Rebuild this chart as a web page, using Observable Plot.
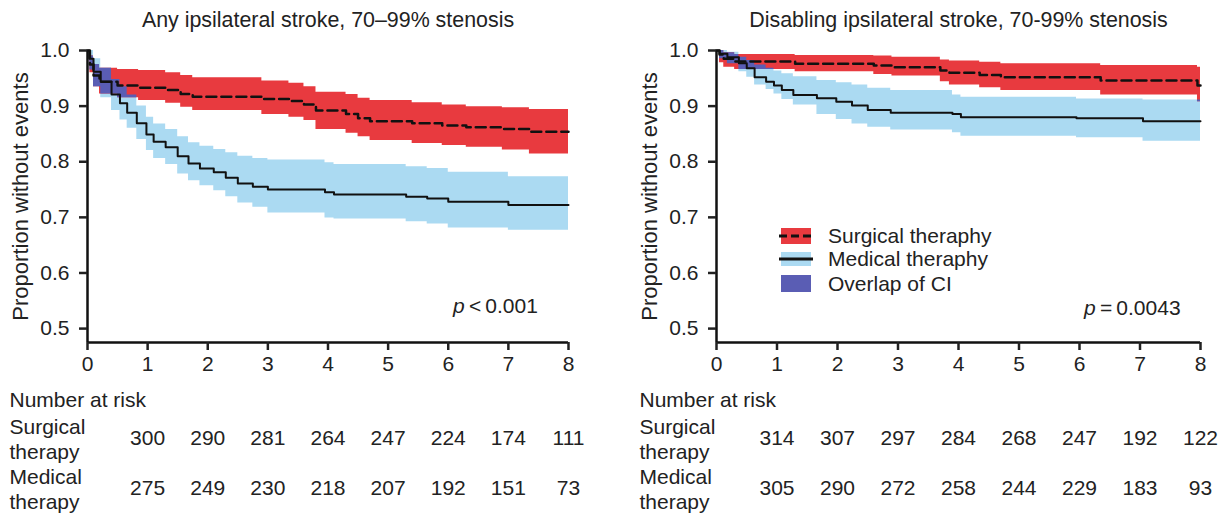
<!DOCTYPE html>
<html>
<head>
<meta charset="utf-8">
<script src="https://cdn.jsdelivr.net/npm/d3@7"></script>
<script src="https://cdn.jsdelivr.net/npm/@observablehq/plot@0.6"></script>
<style>
  body { margin: 0; background: #fff; }
  #wrap { position: relative; width: 1221px; height: 513px; display: flex; font-family: "Liberation Sans", Arial, sans-serif; color: #222; }
  .ov { position: absolute; font-size: 21px; line-height: 1; white-space: nowrap; }
</style>
</head>
<body>
<div id="wrap"></div>
<script>
// ---------- data ----------
const xTicks = [0, 1, 2, 3, 4, 5, 6, 7, 8];
const yTicks = [0.5, 0.6, 0.7, 0.8, 0.9, 1.0];
const riskTicks = [1, 2, 3, 4, 5, 6, 7, 8];

// Panel 1: any ipsilateral stroke
const anySurgT  = [0, 0.04, 0.1, 0.2, 0.5, 0.85, 1.3, 1.55, 1.75, 2.9, 3.35, 3.6, 3.8, 4.3, 4.5, 4.7, 5.4, 5.9, 6.3, 6.9, 7.35, 8];
const anySurgS  = [1.0, 0.975, 0.955, 0.944, 0.937, 0.933, 0.929, 0.922, 0.917, 0.913, 0.909, 0.903, 0.892, 0.886, 0.878, 0.873, 0.869, 0.865, 0.862, 0.859, 0.854, 0.854];
const anySurgLo = [1.0, 0.96, 0.935, 0.922, 0.915, 0.91, 0.905, 0.898, 0.892, 0.885, 0.88, 0.874, 0.858, 0.851, 0.845, 0.838, 0.833, 0.829, 0.826, 0.821, 0.814, 0.814];
const anySurgHi = [1.0, 0.99, 0.975, 0.968, 0.966, 0.964, 0.96, 0.955, 0.951, 0.945, 0.941, 0.935, 0.925, 0.921, 0.914, 0.91, 0.906, 0.902, 0.899, 0.897, 0.894, 0.894];

const anyMedT  = [0, 0.03, 0.1, 0.22, 0.4, 0.54, 0.66, 0.82, 0.98, 1.1, 1.3, 1.5, 1.68, 1.87, 2.1, 2.3, 2.5, 2.75, 3.0, 3.95, 4.1, 5.3, 5.65, 6.0, 7.0, 8];
const anyMedS  = [1.0, 0.985, 0.962, 0.944, 0.921, 0.905, 0.888, 0.869, 0.849, 0.836, 0.826, 0.81, 0.797, 0.788, 0.781, 0.771, 0.761, 0.755, 0.75, 0.745, 0.741, 0.737, 0.734, 0.728, 0.722, 0.722];
const anyMedLo = [1.0, 0.965, 0.935, 0.915, 0.892, 0.875, 0.86, 0.84, 0.82, 0.806, 0.795, 0.778, 0.766, 0.757, 0.748, 0.737, 0.726, 0.718, 0.708, 0.699, 0.697, 0.692, 0.688, 0.681, 0.677, 0.677];
const anyMedHi = [1.0, 1.0, 0.985, 0.968, 0.948, 0.935, 0.92, 0.9, 0.88, 0.868, 0.858, 0.845, 0.834, 0.828, 0.822, 0.816, 0.81, 0.806, 0.803, 0.798, 0.795, 0.791, 0.788, 0.781, 0.773, 0.773];

const anySurgRisk = [300, 290, 281, 264, 247, 224, 174, 111];
const anyMedRisk  = [275, 249, 230, 218, 207, 192, 151, 73];

// Panel 2: disabling ipsilateral stroke
const disSurgT  = [0, 0.05, 0.12, 0.3, 1.3, 2.6, 2.9, 3.7, 3.85, 4.35, 4.7, 6.35, 7.95, 8];
const disSurgS  = [1.0, 0.993, 0.985, 0.98, 0.976, 0.973, 0.97, 0.964, 0.96, 0.956, 0.952, 0.946, 0.937, 0.937];
const disSurgLo = [1.0, 0.978, 0.97, 0.966, 0.962, 0.957, 0.954, 0.944, 0.938, 0.933, 0.928, 0.92, 0.908, 0.908];
const disSurgHi = [1.0, 1.0, 0.996, 0.993, 0.991, 0.99, 0.988, 0.983, 0.981, 0.979, 0.976, 0.973, 0.97, 0.97];

const disMedT  = [0, 0.05, 0.18, 0.37, 0.5, 0.63, 0.82, 0.95, 1.08, 1.27, 1.66, 1.98, 2.24, 2.5, 2.88, 3.9, 4.04, 5.95, 7.05, 8];
const disMedS  = [1.0, 0.994, 0.988, 0.977, 0.968, 0.952, 0.944, 0.937, 0.929, 0.92, 0.914, 0.908, 0.901, 0.893, 0.888, 0.886, 0.88, 0.878, 0.873, 0.873];
const disMedLo = [1.0, 0.985, 0.976, 0.962, 0.952, 0.938, 0.93, 0.922, 0.912, 0.902, 0.885, 0.876, 0.868, 0.862, 0.857, 0.852, 0.846, 0.843, 0.837, 0.837];
const disMedHi = [1.0, 1.0, 0.997, 0.988, 0.982, 0.974, 0.968, 0.963, 0.958, 0.953, 0.946, 0.942, 0.938, 0.932, 0.928, 0.92, 0.916, 0.913, 0.911, 0.911];

const disSurgRisk = [314, 307, 297, 284, 268, 247, 192, 122];
const disMedRisk  = [305, 290, 272, 258, 244, 229, 183, 93];

// ---------- helpers ----------
const RED = "#e83a3f", BLUE = "#abdaf2", PURPLE = "#5a5db4";
const FONT = "'Liberation Sans', Arial, Helvetica, sans-serif";
const INK = "#222";
const Y_MIN = 0.475;

function rows(t, s, lo, hi) { return t.map((d, i) => ({t: d, s: s[i], lo: lo[i], hi: hi[i]})); }
function stepAt(r, time) { let v = r[0]; for (const d of r) { if (d.t <= time) v = d; else break; } return v; }
function overlap(a, b) {
  const times = Array.from(new Set([...a.map(d => d.t), ...b.map(d => d.t)])).sort((x, y) => x - y);
  return times.map(t => {
    const A = stepAt(a, t), B = stepAt(b, t);
    const lo = Math.max(A.lo, B.lo), hi = Math.min(A.hi, B.hi);
    return {t, lo, hi: hi > lo ? hi : lo};
  });
}

function panel({title, surg, med, surgRisk, medRisk, width, marginLeft, marginRight, labelX, rowX}) {
  const ov = overlap(surg, med);
  const fs = 21;
  const txt = {fontSize: fs, fill: INK, lineAnchor: "middle"};
  return Plot.plot({
    width, height: 513,
    marginLeft, marginRight, marginTop: 50, marginBottom: 171,
    style: {fontFamily: FONT, fontSize: fs + "px", color: INK, background: "white", overflow: "visible"},
    x: {domain: [0, 8]},
    y: {domain: [Y_MIN, 1.0]},
    marks: [
      Plot.areaY(med, {x: "t", y1: "lo", y2: "hi", curve: "step-after", fill: BLUE}),
      Plot.areaY(surg, {x: "t", y1: "lo", y2: "hi", curve: "step-after", fill: RED}),
      Plot.areaY(ov, {x: "t", y1: "lo", y2: "hi", curve: "step-after", fill: PURPLE}),
      Plot.lineY(med, {x: "t", y: "s", curve: "step-after", stroke: "#111", strokeWidth: 2}),
      Plot.lineY(surg, {x: "t", y: "s", curve: "step-after", stroke: "#111", strokeWidth: 2.5, strokeDasharray: "10,5"}),
      Plot.ruleX([0], {y1: Y_MIN, y2: 1.0, stroke: "#111", strokeWidth: 2.5}),
      Plot.ruleY([Y_MIN], {x1: 0, x2: 8, stroke: "#111", strokeWidth: 2.5}),
      Plot.axisY({ticks: yTicks, tickFormat: d3.format(".1f"), tickSize: 8, tickPadding: 10, strokeWidth: 2.5, fontSize: fs, label: null}),
      Plot.axisX({ticks: xTicks, tickSize: 8, tickPadding: 6, strokeWidth: 2.5, fontSize: fs, label: null}),
      Plot.text([title], {...txt, frameAnchor: "top", dy: -30, fontSize: 21.4}),
      Plot.text(["Proportion without events"], {...txt, frameAnchor: "left", rotate: -90, textAnchor: "middle", dx: labelX - marginLeft, fontSize: 22}),
      Plot.text(["Number at risk"], {...txt, frameAnchor: "bottom-left", dx: rowX - marginLeft, dy: 58, textAnchor: "start"}),
      Plot.text(["Surgical\ntherapy"], {...txt, frameAnchor: "bottom-left", dx: rowX - marginLeft, dy: 96, textAnchor: "start", lineHeight: 1.17}),
      Plot.text(["Medical\ntherapy"], {...txt, frameAnchor: "bottom-left", dx: rowX - marginLeft, dy: 146, textAnchor: "start", lineHeight: 1.17}),
      Plot.text(riskTicks, {...txt, x: d => d, frameAnchor: "bottom", dy: 96, text: (d, i) => String(surgRisk[i])}),
      Plot.text(riskTicks, {...txt, x: d => d, frameAnchor: "bottom", dy: 146, text: (d, i) => String(medRisk[i])})
    ]
  });
}

const wrap = document.getElementById("wrap");
wrap.append(panel({
  title: "Any ipsilateral stroke, 70\u201399% stenosis",
  surg: rows(anySurgT, anySurgS, anySurgLo, anySurgHi),
  med: rows(anyMedT, anyMedS, anyMedLo, anyMedHi),
  surgRisk: anySurgRisk, medRisk: anyMedRisk,
  width: 610, marginLeft: 87, marginRight: 42, labelX: 20, rowX: 9
}));
wrap.append(panel({
  title: "Disabling ipsilateral stroke, 70-99% stenosis",
  surg: rows(disSurgT, disSurgS, disSurgLo, disSurgHi),
  med: rows(disMedT, disMedS, disMedLo, disMedHi),
  surgRisk: disSurgRisk, medRisk: disMedRisk,
  width: 611, marginLeft: 106, marginRight: 21, labelX: 39, rowX: 29
}));

// p-values and legend (annotations)
function addHTML(html, left, top) {
  const d = document.createElement("div");
  d.className = "ov"; d.style.left = left + "px"; d.style.top = top + "px";
  d.innerHTML = html; wrap.append(d); return d;
}
addHTML("<i>p</i>\u2009<\u20090.001", 453, 295);
addHTML("<i>p</i>\u2009=\u20090.0043", 1084, 297);

const legendItems = [
  {label: "Surgical theraphy", fill: RED, dash: "8,4", h: 16},
  {label: "Medical theraphy", fill: BLUE, dash: null, h: 14},
  {label: "Overlap of CI", fill: PURPLE, dash: null, h: 17, noLine: true}
];
const legendTops = [228, 252, 275];
legendItems.forEach((it, i) => {
  const top = legendTops[i];
  const line = it.noLine ? "" : `<line x1="0" x2="34" y1="${it.h / 2}" y2="${it.h / 2}" stroke="#111" stroke-width="3" ${it.dash ? `stroke-dasharray="${it.dash}"` : ""}/>`;
  addHTML(`<svg width="34" height="${it.h}" style="display:block"><rect x="2" y="0" width="30" height="${it.h}" fill="${it.fill}"/>${line}</svg>`, 779, top);
  addHTML(it.label, 828, top + it.h / 2 - 11);
});
</script>
</body>
</html>
